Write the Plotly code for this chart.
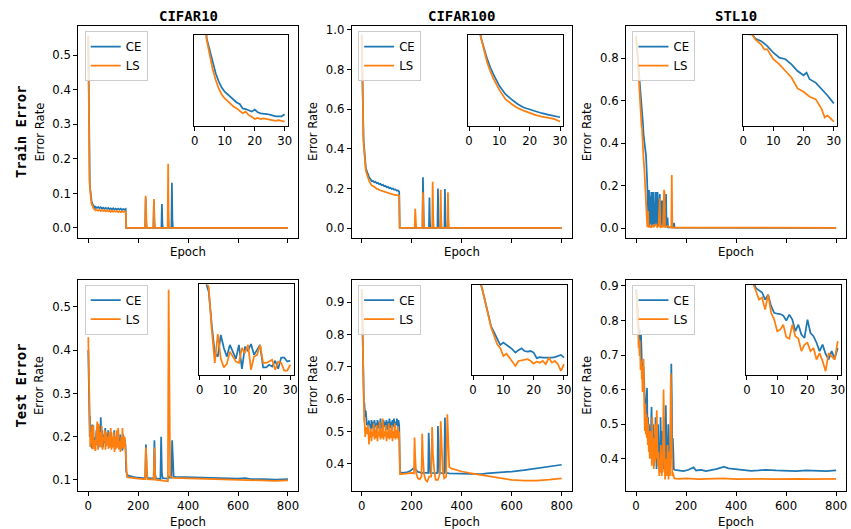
import plotly.graph_objects as go

# ---------------- data ----------------
DATASETS = ["CIFAR10", "CIFAR100", "STL10"]
ROWS = ["Train Error", "Test Error"]
SERIES = ["CE", "LS"]
X_TICKS = [0, 200, 400, 600, 800]
INSET_TICKS = [0, 10, 20, 30]

# CIFAR10 train  (first list = epochs 0..30, rest = (epoch, value))
A_CE_FIRST = [0.556, 0.42, 0.31, 0.22, 0.1654, 0.148, 0.132, 0.1174, 0.1059, 0.0976, 0.0918, 0.0878,
              0.0839, 0.0804, 0.077, 0.0748, 0.0688, 0.0679, 0.0656, 0.0643, 0.067, 0.0634, 0.062,
              0.062, 0.061, 0.0601, 0.0588, 0.0579, 0.0579, 0.0579, 0.0606]
A_CE_REST = [(35, .058), (40, .061), (45, .057), (50, .060), (55, .056), (60, .059), (65, .055), (70, .058),
             (75, .055), (80, .058), (85, .054), (90, .057), (95, .054), (100, .057), (105, .053), (110, .056),
             (115, .053), (120, .056), (125, .053), (130, .056), (135, .052), (140, .055), (145, .053), (150, .055),
             (152, .0003), (228, .0003), (230, .085), (232, .015), (234, .0003), (261, .0003), (263, .078),
             (265, .015), (267, .0003), (293, .0003), (295, .069), (297, .012), (299, .0003), (333, .0003),
             (335, .131), (337, .025), (339, .0003), (800, .0003)]
A_LS_FIRST = [0.556, 0.41, 0.30, 0.21, 0.1631, 0.1411, 0.1229, 0.1081, 0.0963, 0.088, 0.0825, 0.0789,
              0.0748, 0.0711, 0.0688, 0.0656, 0.062, 0.0643, 0.0596, 0.0574, 0.0541, 0.0555, 0.0541,
              0.055, 0.0541, 0.0541, 0.0524, 0.0514, 0.0524, 0.0514, 0.0505]
A_LS_REST = [(35, .052), (40, .050), (45, .053), (50, .049), (55, .052), (60, .049), (65, .051), (70, .048),
             (75, .051), (80, .048), (85, .050), (90, .047), (95, .050), (100, .047), (105, .049), (110, .047),
             (115, .049), (120, .046), (125, .049), (130, .046), (135, .048), (140, .046), (145, .048), (150, .047),
             (152, .0002), (228, .0002), (230, .093), (232, .018), (234, .0002), (261, .0002), (263, .084),
             (265, .016), (267, .0002), (318, .0002), (320, .186), (322, .035), (324, .0002), (800, .0002)]

# CIFAR100 train
B_CE = [(0, .975), (1, .85), (2, .74), (3, .65), (4, .586), (5, .539), (6, .499), (7, .465), (8, .436),
        (10, .387), (12, .352), (14, .330), (16, .311), (18, .296), (20, .287), (22, .279), (24, .272),
        (26, .266), (28, .262), (30, .255), (35, .247), (40, .236), (45, .238), (50, .231), (55, .233),
        (60, .226), (65, .228), (70, .221), (75, .223), (80, .216), (85, .218), (90, .211), (95, .213),
        (100, .206), (105, .208), (110, .201), (115, .203), (120, .197), (125, .199), (130, .193), (135, .195),
        (140, .189), (145, .19), (150, .184), (152, .001), (243, .001), (245, .256), (247, .05), (249, .001),
        (269, .001), (271, .154), (273, .03), (275, .001), (303, .001), (305, .2), (307, .04), (309, .001),
        (331, .001), (333, .197), (335, .04), (337, .001), (800, .001)]
B_LS = [(0, .975), (1, .85), (2, .73), (3, .64), (4, .586), (5, .532), (6, .484), (7, .448), (8, .418),
        (10, .370), (12, .331), (14, .311), (16, .294), (18, .283), (20, .273), (22, .264), (24, .258),
        (26, .252), (28, .248), (30, .237), (35, .225), (40, .214), (45, .212), (50, .205), (55, .203),
        (60, .198), (65, .197), (70, .192), (75, .19), (80, .186), (85, .185), (90, .181), (95, .18),
        (100, .177), (105, .176), (110, .173), (115, .172), (120, .17), (125, .169), (130, .167), (135, .167),
        (140, .165), (145, .165), (150, .163), (152, .001), (212, .001), (214, .097), (216, .02), (218, .001),
        (243, .001), (245, .18), (247, .04), (249, .001), (282, .001), (284, .233), (286, .05), (288, .001),
        (314, .001), (316, .193), (318, .04), (320, .001), (343, .001), (345, .18), (347, .04), (349, .001),
        (800, .001)]

# STL10 train
C_CE = [(0, .905), (1, .89), (2, .875), (3, .875), (4, .849), (6, .832), (8, .801), (10, .759), (12, .728),
        (14, .718), (16, .686), (18, .644), (20, .617), (21, .634), (22, .592), (24, .571), (26, .530),
        (28, .488), (30, .440), (33, .41), (36, .39), (40, .34), (44, .233), (46, .124), (48, .05), (50, .02),
        (52, .18), (54, .01), (57, .15), (59, .02), (61, .17), (63, .005), (65, .17), (67, .01), (70, .17),
        (72, .02), (74, .12), (76, .01), (79, .17), (81, .01), (84, .14), (86, .17), (88, .01), (92, .13),
        (95, .16), (97, .01), (100, .12), (103, .13), (105, .01), (108, .13), (110, .005), (114, .11),
        (116, .01), (120, .16), (122, .01), (126, .05), (128, .003), (150, .003), (152, .025), (154, .002),
        (800, .001)]
C_LS = [(0, .905), (1, .895), (2, .885), (3, .875), (4, .843), (6, .811), (7, .780), (8, .780), (10, .718),
        (12, .686), (14, .644), (16, .603), (18, .534), (20, .513), (22, .482), (24, .467), (26, .404),
        (27, .352), (28, .363), (30, .325), (33, .28), (36, .21), (40, .12), (43, .05), (45, .005), (48, .08),
        (50, .003), (56, .01), (60, .002), (66, .015), (70, .004), (80, .02), (85, .004), (90, .01), (95, .14),
        (97, .003), (105, .01), (108, .003), (112, .18), (114, .17), (116, .003), (125, .01), (135, .004),
        (141, .003), (143, .25), (145, .003), (800, .001)]

# CIFAR10 test
D_CE_FIRST = [0.40, 0.37, 0.365, 0.344, 0.27, 0.208, 0.200, 0.248, 0.219, 0.200, 0.226, 0.211, 0.195,
              0.226, 0.173, 0.222, 0.213, 0.228, 0.204, 0.215, 0.226, 0.176, 0.176, 0.182, 0.178, 0.191,
              0.173, 0.198, 0.198, 0.189, 0.191]
D_CE_REST = [(33, .215), (36, .18), (39, .21), (42, .175), (45, .225), (48, .19), (50, .245), (53, .18),
             (56, .215), (59, .175), (62, .205), (65, .185), (68, .22), (71, .178), (74, .205), (77, .182),
             (80, .215), (83, .175), (86, .2), (89, .185), (92, .21), (95, .175), (98, .2), (101, .18),
             (104, .215), (107, .17), (110, .2), (113, .178), (116, .21), (119, .175), (122, .195), (125, .172),
             (128, .205), (131, .18), (134, .19), (137, .168), (140, .205), (143, .185), (146, .195), (149, .18),
             (152, .12), (155, .113), (160, .11), (170, .108), (180, .107), (190, .106), (200, .105), (210, .104),
             (220, .104), (228, .104), (231, .182), (234, .115), (237, .105), (262, .103), (265, .192),
             (268, .113), (271, .104), (289, .102), (292, .2), (295, .115), (298, .104), (318, .103), (321, .11),
             (324, .106), (333, .105), (336, .192), (339, .12), (342, .108), (350, .107), (400, .106), (450, .105),
             (500, .104), (550, .104), (600, .103), (630, .104), (650, .102), (700, .102), (750, .101), (800, .102)]
D_LS_FIRST = [0.43, 0.39, 0.37, 0.353, 0.26, 0.186, 0.250, 0.195, 0.176, 0.184, 0.211, 0.200, 0.189,
              0.186, 0.219, 0.208, 0.226, 0.171, 0.200, 0.204, 0.226, 0.186, 0.186, 0.189, 0.193, 0.171,
              0.189, 0.186, 0.169, 0.169, 0.182]
D_LS_REST = [(33, .2), (36, .235), (39, .17), (42, .23), (45, .18), (48, .21), (51, .175), (54, .225),
             (57, .17), (60, .2), (63, .19), (66, .215), (69, .17), (72, .21), (75, .18), (78, .2), (81, .172),
             (84, .21), (87, .175), (90, .22), (93, .17), (96, .2), (99, .175), (102, .21), (105, .165), (108, .2),
             (111, .172), (114, .215), (117, .175), (120, .22), (123, .17), (126, .19), (129, .165), (132, .2),
             (135, .175), (137, .22), (140, .172), (143, .195), (146, .2), (149, .175), (152, .11), (155, .107),
             (160, .106), (180, .104), (200, .103), (220, .102), (228, .102), (231, .175), (234, .11), (237, .102),
             (262, .101), (265, .175), (268, .105), (271, .1), (290, .099), (300, .098), (310, .097), (319, .097),
             (322, .54), (325, .12), (328, .108), (340, .105), (400, .104), (450, .103), (500, .102), (550, .101),
             (600, .1), (650, .099), (700, .099), (750, .098), (800, .099)]

# CIFAR100 test
E_CE_FIRST = [0.94, 0.92, 0.89, 0.842, 0.783, 0.724, 0.665, 0.637, 0.606, 0.580, 0.591, 0.583, 0.571,
              0.560, 0.545, 0.556, 0.565, 0.552, 0.549, 0.552, 0.545, 0.519, 0.524, 0.521, 0.521, 0.519,
              0.521, 0.524, 0.529, 0.534, 0.521]
E_CE_REST = [(33, .52), (36, .505), (39, .535), (42, .51), (45, .53), (48, .5), (51, .535), (54, .515),
             (57, .525), (60, .505), (63, .535), (66, .51), (69, .53), (72, .505), (75, .54), (78, .51),
             (81, .525), (84, .5), (87, .535), (90, .515), (93, .53), (96, .51), (99, .535), (102, .505),
             (105, .53), (108, .515), (111, .54), (114, .51), (117, .53), (120, .505), (123, .535), (126, .515),
             (129, .54), (132, .51), (135, .53), (138, .52), (141, .54), (144, .515), (147, .535), (150, .52),
             (153, .375), (160, .372), (180, .373), (195, .378), (205, .385), (215, .383), (225, .375),
             (240, .372), (260, .371), (266, .372), (268, .496), (271, .38), (274, .372), (300, .371),
             (303, .372), (305, .517), (308, .38), (311, .372), (330, .371), (333, .543), (336, .385),
             (339, .372), (350, .37), (400, .369), (450, .368), (480, .368), (500, .37), (550, .372),
             (600, .376), (650, .38), (700, .386), (750, .39), (800, .397)]
E_LS_FIRST = [0.94, 0.92, 0.89, 0.842, 0.783, 0.721, 0.660, 0.621, 0.583, 0.565, 0.529, 0.540, 0.521,
              0.506, 0.483, 0.506, 0.509, 0.509, 0.514, 0.506, 0.494, 0.503, 0.498, 0.506, 0.491, 0.521,
              0.498, 0.506, 0.491, 0.460, 0.491]
E_LS_REST = [(33, .48), (36, .51), (39, .47), (42, .5), (45, .485), (48, .525), (51, .475), (54, .505),
             (57, .48), (60, .52), (63, .47), (66, .5), (69, .485), (72, .53), (75, .475), (78, .505), (81, .48),
             (84, .54), (87, .475), (90, .5), (93, .485), (96, .52), (99, .47), (102, .5), (105, .48), (108, .525),
             (111, .475), (114, .505), (117, .48), (120, .52), (123, .47), (126, .5), (129, .48), (132, .525),
             (135, .475), (138, .505), (141, .48), (144, .515), (147, .475), (150, .5), (153, .368), (160, .368),
             (180, .37), (200, .372), (209, .37), (211.5, .481), (214, .42), (218, .37), (225, .355), (232, .352),
             (239, .36), (242, .493), (245, .42), (249, .37), (255, .35), (262, .345), (270, .36), (278, .36),
             (281.7, .514), (285, .43), (290, .38), (296, .35), (305, .35), (313, .37), (316, .532), (319, .45),
             (324, .38), (330, .355), (338, .36), (342.5, .553), (346, .46), (350, .39), (360, .385), (400, .376),
             (450, .369), (500, .362), (550, .356), (600, .35), (650, .348), (700, .348), (750, .351), (800, .355)]

# STL10 test
F_CE_FIRST = [0.89, 0.885, 0.88, 0.859, 0.851, 0.845, 0.822, 0.838, 0.801, 0.78, 0.777, 0.776, 0.771,
              0.755, 0.774, 0.758, 0.721, 0.742, 0.710, 0.699, 0.758, 0.715, 0.705, 0.684, 0.657, 0.678,
              0.648, 0.630, 0.657, 0.633, 0.667]
F_CE_REST = [(33, .60), (36, .56), (39, .50), (41, .55), (44, .605), (46, .47), (48, .52), (50, .45), (52, .50),
             (54, .44), (56, .48), (58, .42), (60, .47), (62, .55), (64, .45), (66, .40), (68, .50), (70, .43),
             (72, .38), (74, .47), (76, .40), (78, .52), (80, .42), (82, .37), (84, .45), (86, .39), (88, .50),
             (90, .41), (92, .37), (94, .44), (96, .38), (98, .52), (100, .40), (102, .36), (104, .48), (106, .39),
             (108, .45), (110, .37), (112, .42), (114, .52), (116, .40), (118, .38), (119, .555), (121, .42),
             (123, .37), (125, .45), (127, .39), (129, .50), (131, .40), (133, .37), (135, .43), (137, .38),
             (139, .52), (141, .675), (143, .58), (145, .40), (147, .46), (149, .42), (151, .37), (155, .368),
             (170, .366), (190, .364), (210, .368), (230, .375), (240, .366), (260, .368), (280, .364),
             (300, .366), (320, .37), (340, .374), (350, .377), (370, .372), (400, .37), (430, .367),
             (460, .365), (490, .366), (520, .368), (560, .366), (600, .365), (640, .364), (680, .366),
             (720, .365), (760, .364), (800, .366)]
F_LS_FIRST = [0.885, 0.88, 0.875, 0.849, 0.822, 0.829, 0.79, 0.838, 0.78, 0.758, 0.721, 0.726, 0.742,
              0.702, 0.697, 0.742, 0.705, 0.697, 0.657, 0.678, 0.684, 0.657, 0.667, 0.63, 0.651, 0.625,
              0.593, 0.651, 0.641, 0.63, 0.689]
F_LS_REST = [(33, .55), (35, .48), (37, .56), (39, .47), (41, .53), (43, .46), (45, .52), (47, .44), (49, .50),
             (51, .42), (53, .46), (55, .40), (57, .48), (59, .41), (61, .45), (63, .38), (65, .52), (67, .42),
             (69, .46), (71, .37), (73, .44), (75, .39), (77, .50), (79, .40), (81, .47), (83, .54), (85, .45),
             (87, .38), (89, .42), (91, .36), (93, .35), (95, .40), (97, .36), (99, .44), (101, .37), (103, .35),
             (105, .41), (107, .36), (110, .60), (112, .45), (114, .36), (116, .34), (118, .40), (120, .35),
             (122, .38), (124, .35), (126, .44), (128, .36), (130, .34), (132, .42), (134, .36), (136, .35),
             (139, .646), (141, .45), (143, .36), (145, .35), (147, .36), (150, .35), (153, .343), (170, .342),
             (200, .343), (250, .341), (300, .342), (350, .343), (400, .341), (450, .342), (500, .342),
             (550, .341), (600, .342), (650, .342), (700, .341), (750, .342), (800, .342)]


def join(first, rest):
    return [(i, v) for i, v in enumerate(first)] + list(rest)


PANELS = [
    (join(A_CE_FIRST, A_CE_REST), join(A_LS_FIRST, A_LS_REST)),
    (B_CE, B_LS),
    (C_CE, C_LS),
    (join(D_CE_FIRST, D_CE_REST), join(D_LS_FIRST, D_LS_REST)),
    (join(E_CE_FIRST, E_CE_REST), join(E_LS_FIRST, E_LS_REST)),
    (join(F_CE_FIRST, F_CE_REST), join(F_LS_FIRST, F_LS_REST)),
]

# ---------------- layout geometry (pixels) ----------------
W, H = 851, 529
MAIN_BOX = [(75.9, 297.4, 23.3, 236.0), (351.6, 573.4, 23.3, 236.0), (628.2, 850.1, 23.3, 236.0),
            (75.9, 297.4, 278.3, 491.0), (351.6, 573.4, 278.3, 491.0), (628.2, 850.1, 278.3, 491.0)]
INSET_BOX = [(192.7, 287.3, 32.3, 123.3), (469.3, 565.0, 32.3, 123.3), (745.7, 841.0, 32.3, 123.3),
             (197.7, 293.0, 283.0, 373.8), (473.3, 569.0, 283.3, 374.3), (749.5, 845.0, 283.3, 374.3)]
MAIN_YRANGE = [(-0.028, 0.584), (-0.0485, 1.0185), (-0.045, 0.951),
               (0.074, 0.563), (0.315, 0.97), (0.306, 0.918)]
MAIN_YTICK = [(0.0, 0.1), (0.0, 0.2), (0.0, 0.2), (0.1, 0.1), (0.4, 0.1), (0.4, 0.1)]
INSET_YRANGE = [(0.045, 0.17), (0.22, 0.60), (0.30, 0.87), (0.16, 0.36), (0.44, 0.86), (0.58, 0.87)]
INSET_XRANGE = (-0.2, 31.1)
COLORS = {"CE": "#1f77b4", "LS": "#ff7f0e"}
FONT = "DejaVu Sans"
MONO = "DejaVu Sans Mono"
FS = 11.7


def xdom(l, r):
    return [l / W, r / W]


def ydom(t, b):
    return [1 - b / H, 1 - t / H]


fig = go.Figure()
layout = {}
annotations = []

for p, (ce, ls) in enumerate(PANELS):
    mi, ii = 2 * p + 1, 2 * p + 2
    mx, my = ("x" if mi == 1 else f"x{mi}"), ("y" if mi == 1 else f"y{mi}")
    ix, iy = f"x{ii}", f"y{ii}"
    leg = "legend" if p == 0 else f"legend{p + 1}"
    for name, data in zip(SERIES, (ce, ls)):
        xs = [d[0] for d in data]
        ys = [d[1] for d in data]
        fig.add_trace(go.Scatter(x=xs, y=ys, mode="lines", name=name, legend=leg,
                                 line=dict(color=COLORS[name], width=1.75),
                                 xaxis=mx, yaxis=my, showlegend=True))
    for name, data in zip(SERIES, (ce, ls)):
        xs = [d[0] for d in data if d[0] <= 32]
        ys = [d[1] for d in data if d[0] <= 32]
        fig.add_trace(go.Scatter(x=xs, y=ys, mode="lines", name=name,
                                 line=dict(color=COLORS[name], width=1.75),
                                 xaxis=ix, yaxis=iy, showlegend=False))

    l, r, t, b = MAIN_BOX[p]
    row = p // 3
    axcommon = dict(showline=True, linecolor="black", linewidth=1, mirror=True, showgrid=False,
                    zeroline=False, ticks="outside", ticklen=4, tickwidth=1, tickcolor="black",
                    tickfont=dict(family=FONT, size=FS, color="black"))
    layout["xaxis" if mi == 1 else f"xaxis{mi}"] = dict(
        axcommon, domain=xdom(l, r), anchor=my, range=[-40, 840], tickvals=X_TICKS,
        showticklabels=(row == 1))
    t0, dt = MAIN_YTICK[p]
    layout["yaxis" if mi == 1 else f"yaxis{mi}"] = dict(
        axcommon, domain=ydom(t, b), anchor=mx, range=list(MAIN_YRANGE[p]), tick0=t0, dtick=dt,
        tickformat=".1f")
    il, ir, it, ib = INSET_BOX[p]
    layout[f"xaxis{ii}"] = dict(axcommon, domain=xdom(il, ir), anchor=iy, range=list(INSET_XRANGE),
                                tickvals=INSET_TICKS)
    layout[f"yaxis{ii}"] = dict(axcommon, domain=ydom(it, ib), anchor=ix, range=list(INSET_YRANGE[p]),
                                ticks="", showticklabels=False)
    layout[leg] = dict(x=(l + 6.5) / W, y=1 - (t + 5.0) / H, xanchor="left", yanchor="top",
                       bgcolor="rgba(255,255,255,0.8)", bordercolor="#cccccc", borderwidth=1,
                       font=dict(family=FONT, size=FS, color="black"), tracegroupgap=0,
                       itemwidth=30)

    # axis labels
    annotations.append(dict(text="Error Rate", x=(l - 39) / W, y=1 - ((t + b) / 2) / H, xref="paper",
                            yref="paper", showarrow=False, textangle=-90, xanchor="center",
                            yanchor="middle", font=dict(family=FONT, size=FS, color="black")))
    annotations.append(dict(text="Epoch", x=((l + r) / 2) / W, y=1 - (250.0 if row == 0 else 521.7) / H,
                            xref="paper", yref="paper", showarrow=False, xanchor="center",
                            yanchor="middle", font=dict(family=FONT, size=FS, color="black")))
    if row == 0:
        annotations.append(dict(text="<b>" + DATASETS[p] + "</b>", x=((l + r) / 2) / W, y=1 - 12.8 / H,
                                xref="paper", yref="paper", showarrow=False, xanchor="center",
                                yanchor="middle", font=dict(family=MONO, size=14, color="black")))

for k, label in enumerate(ROWS):
    t, b = MAIN_BOX[3 * k][2], MAIN_BOX[3 * k][3]
    annotations.append(dict(text="<b>" + label + "</b>", x=18.3 / W, y=1 - ((t + b) / 2) / H, xref="paper",
                            yref="paper", showarrow=False, textangle=-90, xanchor="center",
                            yanchor="middle", font=dict(family=MONO, size=14, color="black")))

fig.update_layout(width=W, height=H, margin=dict(l=0, r=0, t=0, b=0), paper_bgcolor="white",
                  plot_bgcolor="white", annotations=annotations, font=dict(family=FONT, color="black"),
                  hovermode=False, **layout)
fig.write_html("out.html", config={"displayModeBar": False},
               post_script="document.body.style.margin='0px';document.body.style.padding='0px';")
